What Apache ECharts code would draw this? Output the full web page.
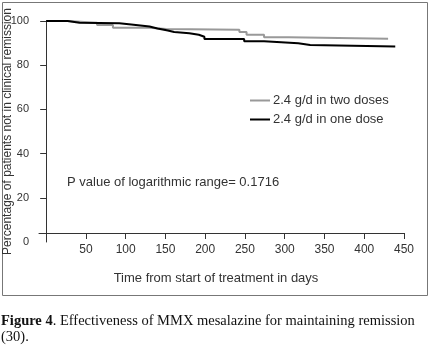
<!DOCTYPE html>
<html>
<head>
<meta charset="utf-8">
<script src="https://cdn.jsdelivr.net/npm/echarts@6/dist/echarts.min.js"></script>
<style>
html, body { margin: 0; padding: 0; background: #fff; }
#chart { width: 430px; height: 351px; }
</style>
</head>
<body>
<div id="chart"></div>
<script>
var chart = echarts.init(document.getElementById('chart'));

// tick labels
var xTicks = [50, 100, 150, 200, 250, 300, 350, 400, 450];
var yTicks = [0, 20, 40, 60, 80, 100];

// Kaplan-Meier steps: [day, % not in remission]
var twoDosesDays  = [0, 27, 64, 84, 130, 151, 243, 252, 274, 305, 430];
var twoDosesPct   = [100, 99.2, 98.2, 97.0, 96.4, 96.0, 95.0, 93.8, 92.6, 92.0, 92.0];
var oneDoseDays   = [0, 27, 42, 92, 107, 130, 140, 153, 161, 180, 192, 199, 249, 274, 317, 332, 439];
var oneDosePct    = [100, 99.2, 99.0, 98.4, 97.5, 96.6, 95.7, 95.0, 94.5, 93.8, 92.9, 91.8, 90.8, 89.9, 89.1, 88.5, 88.5];

function pairs(xs, ys) {
    var out = [];
    for (var i = 0; i < xs.length; i++) {
        out.push([xs[i], ys[i]]);
    }
    return out;
}

var txt = '#333';
var font = 'Liberation Sans, Arial, sans-serif';

option = {
    animation: false,
    backgroundColor: '#fff',
    grid: {
        left: 39,
        right: 26,
        top: 21,
        bottom: 109,
        outerBoundsMode: 'none'
    },
    legend: {
        orient: 'vertical',
        left: 245,
        top: 89,
        itemWidth: 20,
        itemHeight: 2,
        itemGap: 6,
        icon: 'rect',
        textStyle: { fontSize: 13, color: txt, fontFamily: font, padding: [0, 0, 0, -2] },
        data: ['2.4 g/d in two doses', '2.4 g/d in one dose']
    },
    xAxis: {
        type: 'value',
        min: -9,
        max: 450,
        offset: -9,
        name: 'Time from start of treatment in days',
        nameLocation: 'middle',
        nameGap: 39,
        nameTextStyle: { fontSize: 13, color: txt, fontFamily: font, padding: [0, 11, 0, 0] },
        splitLine: { show: false },
        axisLine: { onZero: false, lineStyle: { color: '#333', width: 1 } },
        axisTick: { customValues: xTicks, length: 6, lineStyle: { color: '#333' } },
        axisLabel: { customValues: xTicks, fontSize: 12, color: txt, fontFamily: font, margin: 11 }
    },
    yAxis: {
        type: 'value',
        min: 0,
        max: 100,
        name: 'Percentage of patients not in clinical remission',
        nameLocation: 'middle',
        nameGap: 25,
        nameMoveOverlap: false,
        nameTextStyle: { fontSize: 12, color: txt, fontFamily: font },
        splitLine: { show: false },
        axisLine: { show: true, onZero: true, lineStyle: { color: '#333', width: 1 } },
        axisTick: { customValues: [20, 40, 60, 80, 100], length: 6, lineStyle: { color: '#333' } },
        axisLabel: { customValues: yTicks, fontSize: 11, color: txt, fontFamily: font, margin: 10 }
    },
    series: [{
        name: '2.4 g/d in two doses',
        type: 'line',
        step: 'end',
        showSymbol: false,
        lineStyle: { color: '#999', width: 2 },
        itemStyle: { color: '#999' },
        data: pairs(twoDosesDays, twoDosesPct)
    }, {
        name: '2.4 g/d in one dose',
        type: 'line',
        step: 'end',
        showSymbol: false,
        lineStyle: { color: '#000', width: 2 },
        itemStyle: { color: '#000' },
        data: pairs(oneDoseDays, oneDosePct)
    }],
    graphic: [{
        type: 'rect',
        shape: { x: 2.5, y: 2.5, width: 425, height: 293 },
        style: { fill: null, stroke: '#777', lineWidth: 1 },
        z: -1
    }, {
        type: 'text',
        left: 67,
        top: 176,
        style: { text: 'P value of logarithmic range= 0.1716', fontSize: 13, fill: txt, fontFamily: font }
    }, {
        type: 'text',
        left: 1,
        top: 313,
        style: {
            text: '{b|Figure 4}. Effectiveness of MMX mesalazine for maintaining remission\n(30).',
            fontSize: 14.5,
            lineHeight: 16,
            fill: '#111',
            fontFamily: 'Liberation Serif, Times New Roman, serif',
            rich: {
                b: { fontWeight: 'bold', fontSize: 14.5, lineHeight: 16, fontFamily: 'Liberation Serif, serif', fill: '#111' }
            }
        }
    }]
};

chart.setOption(option);
</script>
</body>
</html>
